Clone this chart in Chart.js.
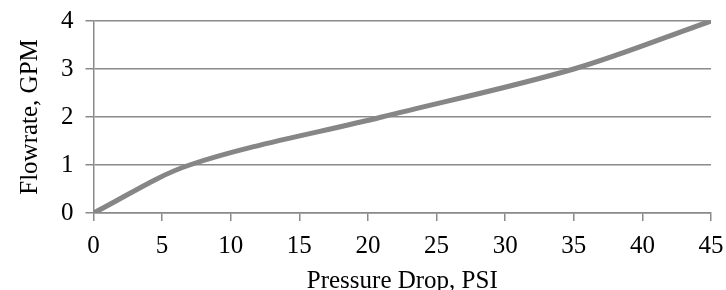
<!DOCTYPE html>
<html>
<head>
<meta charset="utf-8">
<script src="https://cdn.jsdelivr.net/npm/chart.js@4"></script>
<style>
  html, body { margin: 0; padding: 0; background: #fff; }
  #wrap { width: 726px; height: 290px; position: relative; }
</style>
</head>
<body>
<div id="wrap"><canvas id="flowChart"></canvas></div>
<script>
// pressure drop (PSI) vs flowrate (GPM)
var PSI = [0, 7, 21, 35, 45];
var GPM = [0, 1, 2, 3, 4];
var X_TICKS = [0, 5, 10, 15, 20, 25, 30, 35, 40, 45];
var Y_TICKS = [0, 1, 2, 3, 4];

(function () {
  var LINE = '#868686', GRID = '#8a8a8a', INK = '#000',
      SERIF = "'Liberation Serif', 'Times New Roman', serif";

  var pts = PSI.map(function (x, i) { return { x: x, y: GPM[i] }; });

  new Chart(document.getElementById('flowChart').getContext('2d'), {
    type: 'line',
    data: {
      datasets: [{
        label: 'Flowrate', data: pts, borderColor: LINE, borderWidth: 5,
        pointRadius: 0, tension: 0.33, fill: false, borderCapStyle: 'round'
      }]
    },
    options: {
      responsive: true, maintainAspectRatio: false, animation: false,
      layout: { padding: { top: 0, right: 0, left: 15, bottom: 0 } },
      plugins: { legend: { display: false }, tooltip: { enabled: false } },
      scales: {
        x: {
          type: 'linear', min: 0, max: 45,
          afterBuildTicks: function (s) { s.ticks = X_TICKS.map(function (v) { return { value: v }; }); },
          afterFit: function (s) { s.paddingRight = 15; },
          title: { display: true, text: 'Pressure Drop, PSI', color: INK,
                   font: { family: SERIF, size: 25, lineHeight: 1 }, padding: { top: -3, bottom: -4 } },
          grid: { drawOnChartArea: false, drawTicks: true, tickLength: 8, color: GRID, lineWidth: 1.5 },
          border: { color: GRID, width: 1.5 },
          ticks: { color: INK, font: { family: SERIF, size: 25, lineHeight: 1 }, padding: 13, maxRotation: 0 }
        },
        y: {
          min: 0, max: 4,
          afterBuildTicks: function (s) { s.ticks = Y_TICKS.map(function (v) { return { value: v }; }); },
          afterFit: function (s) { s.paddingTop = 21; },
          title: { display: true, text: 'Flowrate, GPM', color: INK,
                   font: { family: SERIF, size: 25 }, padding: { top: 0, bottom: 4 } },
          grid: { drawTicks: true, tickLength: 8, color: GRID, lineWidth: 1.5 },
          border: { color: GRID, width: 1.5 },
          ticks: { color: INK, font: { family: SERIF, size: 25, lineHeight: 1 }, padding: 12 }
        }
      }
    }
  });
})();
</script>
</body>
</html>
